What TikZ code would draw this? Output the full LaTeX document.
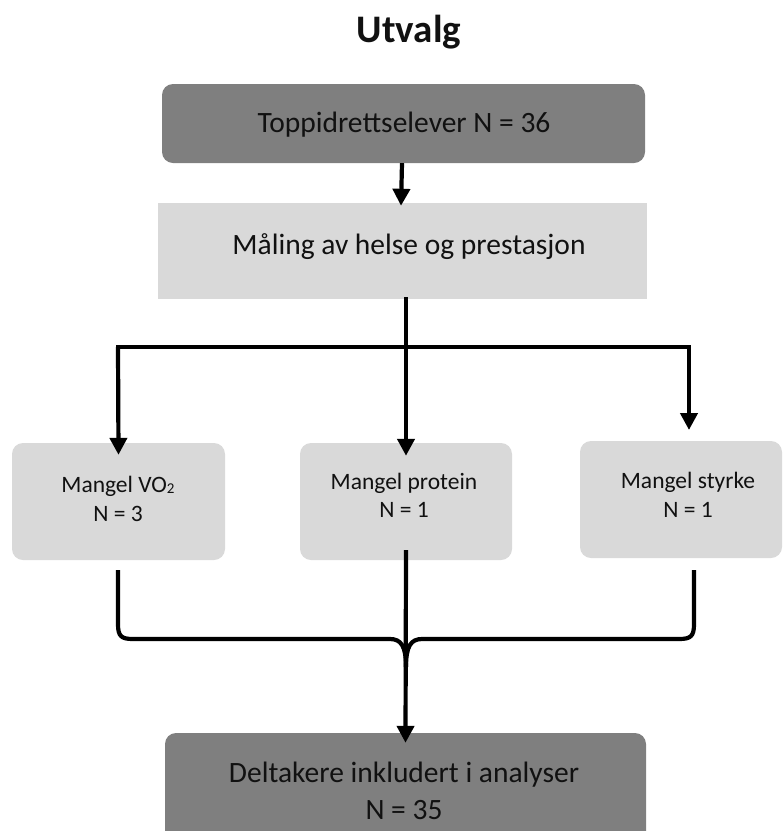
\documentclass[tikz,border=0pt]{standalone}
\usepackage{fontspec}
\setmainfont{Carlito}
\usetikzlibrary{arrows.meta}
\definecolor{darkbox}{HTML}{7F7F7F}
\definecolor{lightbox}{HTML}{D9D9D9}
\definecolor{ink}{HTML}{111111}
\tikzset{
  darkstyle/.style={fill=darkbox, draw=none, rounded corners=11pt, inner sep=0pt},
  lightround/.style={fill=lightbox, draw=none, rounded corners=11pt, inner sep=0pt},
  lightsq/.style={fill=lightbox, draw=none, inner sep=0pt},
  bigtxt/.style={font=\fontsize{29.5}{37}\selectfont, text=ink, inner sep=0pt, anchor=base},
  smalltxt/.style={font=\fontsize{23.5}{29}\selectfont, text=ink, inner sep=0pt, anchor=base},
  conn/.style={line width=4.2pt, draw=black},
  arr/.style={conn, -{Triangle[length=17pt,width=17pt]}},
}
\begin{document}
\begin{tikzpicture}[x=1pt,y=-1pt]
\useasboundingbox (0,0) rectangle (784,831);
\clip (0,0) rectangle (784,831);
% title
\node[inner sep=0pt, anchor=base, font=\fontsize{39}{45}\bfseries\selectfont, text=ink] (title) at (409,42) {Utvalg};
% boxes
\node[darkstyle, minimum width=483pt, minimum height=79pt] (top) at (403.5,123.5) {};
\node[lightsq, minimum width=489pt, minimum height=96pt] (meas) at (402.5,251) {};
\node[lightround, minimum width=213pt, minimum height=117pt] (bl) at (118.5,501.5) {};
\node[lightround, minimum width=212pt, minimum height=117pt] (bm) at (406,501.5) {};
\node[lightround, minimum width=202pt, minimum height=117pt] (br) at (681,499.5) {};
\node[darkstyle, minimum width=481pt, minimum height=130pt] (bot) at (405.5,798) {};
% texts
\node[bigtxt] (ttop) at (404,132) {Toppidrettselever N = 36};
\node[bigtxt] (tmeas) at (409,254) {Måling av helse og prestasjon};
\node[smalltxt] (tbl1) at (118,492) {Mangel VO{\fontsize{15}{15}\selectfont\raisebox{-1.5pt}{2}}};
\node[smalltxt] (tbl2) at (118,521) {N = 3};
\node[smalltxt] (tbm1) at (404,489) {Mangel protein};
\node[smalltxt] (tbm2) at (404,517) {N = 1};
\node[smalltxt] (tbr1) at (688,488) {Mangel styrke};
\node[smalltxt] (tbr2) at (688,517) {N = 1};
\node[bigtxt] (tbot1) at (404,782) {Deltakere inkludert i analyser};
\node[bigtxt] (tbot2) at (404,819) {N = 35};
% connectors
\coordinate (split) at (406,347);
\coordinate (lsplit) at (118,347);
\coordinate (rsplit) at (689,347);
\draw[arr] ([xshift=-1.5pt]top.south) -- ([xshift=-1.5pt,yshift=-3pt]meas.north);
\draw[conn] (406,297) -- (split);
\draw[conn, line cap=rect] (lsplit) -- (rsplit);
\draw[arr] (lsplit) -- ([yshift=-12pt]bl.north);
\draw[arr] (split) -- ([yshift=-13pt]bm.north);
\draw[arr] (rsplit) -- (689,430);
% merge brace
\coordinate (tip) at (406,667);
\draw[conn, line join=round] (118,570) -- (118,624) .. controls (118,636) and (121,639) .. (133,639) -- (390,639) .. controls (401,639) and (406,646) .. (tip);
\draw[conn, line join=round] (694,570) -- (694,624) .. controls (694,636) and (691,639) .. (679,639) -- (422,639) .. controls (411,639) and (406,646) .. (tip);
\draw[arr] ([yshift=10pt]bm.south) -- ([yshift=-10pt]bot.north);
\end{tikzpicture}
\end{document}
